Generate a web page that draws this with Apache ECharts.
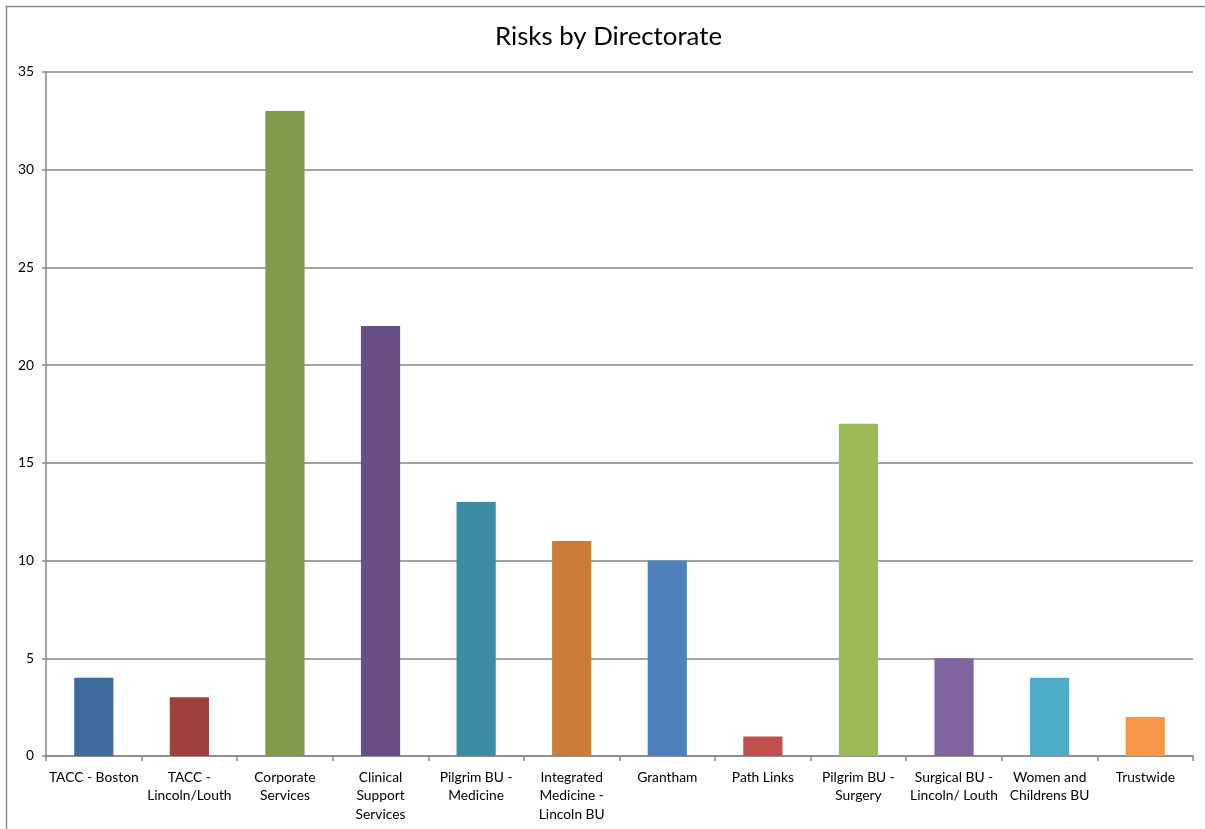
<!DOCTYPE html>
<html>
<head>
<meta charset="utf-8">
<script src="https://cdn.jsdelivr.net/npm/echarts@6/dist/echarts.min.js"></script>
<style>
html,body{margin:0;padding:0;background:#fff;}
#chart{width:1205px;height:829px;}
</style>
</head>
<body>
<div id="chart"></div>
<script>
const categories = [
  "TACC - Boston",
  "TACC -\nLincoln/Louth",
  "Corporate\nServices",
  "Clinical\nSupport\nServices",
  "Pilgrim BU -\nMedicine",
  "Integrated\nMedicine -\nLincoln BU",
  "Grantham",
  "Path Links",
  "Pilgrim BU -\nSurgery",
  "Surgical BU -\nLincoln/ Louth",
  "Women and\nChildrens BU",
  "Trustwide"
];
const values = [4, 3, 33, 22, 13, 11, 10, 1, 17, 5, 4, 2];
const barColors = ["#3F6A9C", "#A0403E", "#7F9A48", "#6A4F87", "#3C8DA4", "#CC7B38",
                   "#4F81BD", "#C0504D", "#9BBB59", "#8064A2", "#4BACC6", "#F79646"];
const yTicks = { min: 0, max: 35, interval: 5 };
const titleText = "Risks by Directorate";

const chart = echarts.init(document.getElementById('chart'), null, {renderer: 'canvas'});
const font = "Lato, 'Open Sans', 'Liberation Sans', sans-serif";
chart.setOption({
  backgroundColor: '#fff',
  animation: false,
  textStyle: { fontFamily: font },
  graphic: [{
    type: 'rect',
    shape: { x: 6.5, y: 6.5, width: 1220, height: 840 },
    style: { fill: 'none', stroke: '#8c8c8c', lineWidth: 1.5 },
    silent: true
  }],
  title: {
    text: titleText,
    left: 490,
    top: 19,
    textStyle: { fontFamily: font, fontSize: 25.8, fontWeight: 'normal', color: '#000' }
  },
  grid: { left: 46, right: 12, top: 72, bottom: 73, containLabel: false },
  xAxis: {
    type: 'category',
    data: categories,
    boundaryGap: true,
    axisLine: { lineStyle: { color: '#868686', width: 1.5 } },
    axisTick: { show: true, length: 5, alignWithLabel: false, lineStyle: { color: '#868686', width: 1.5 } },
    axisLabel: { interval: 0, color: '#000', fontSize: 13.8, lineHeight: 18.5, margin: 12, fontFamily: font, verticalAlign: 'top' }
  },
  yAxis: {
    type: 'value',
    min: yTicks.min, max: yTicks.max, interval: yTicks.interval,
    axisLine: { show: true, lineStyle: { color: '#868686', width: 1.5 } },
    axisTick: { show: true, length: 4, lineStyle: { color: '#868686', width: 1.5 } },
    axisLabel: { color: '#000', fontSize: 13.8, margin: 12, fontFamily: font },
    splitLine: { show: true, lineStyle: { color: '#868686', width: 1.5 } }
  },
  series: [{
    type: 'bar',
    data: values.map((v, i) => ({ value: v, itemStyle: { color: barColors[i] } })),
    barWidth: '41%'
  }]
});
</script>
</body>
</html>
